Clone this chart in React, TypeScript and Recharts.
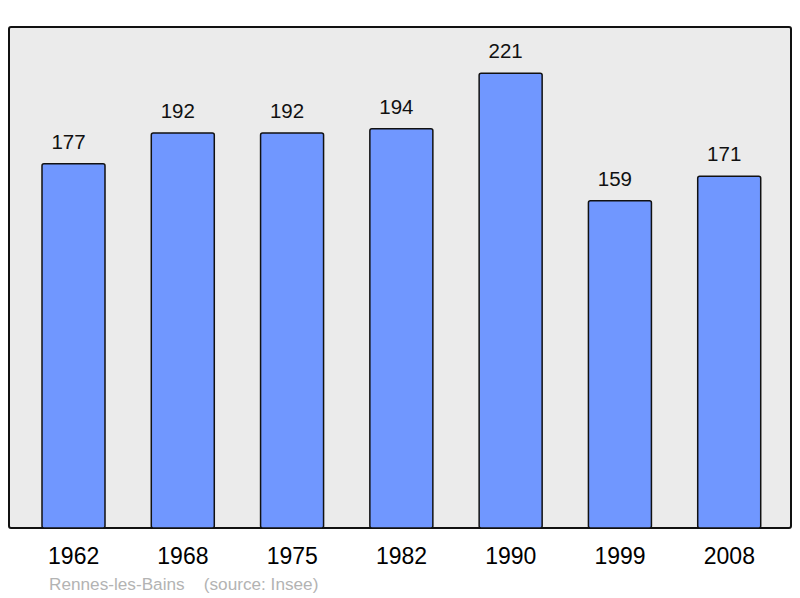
import React from "react"
import { BarChart, Bar, XAxis, YAxis, LabelList, usePlotArea } from "recharts"

const years = ["1962", "1968", "1975", "1982", "1990", "1999", "2008"]
const population = [177, 192, 192, 194, 221, 159, 171]
const caption = "Rennes-les-Bains    (source: Insee)"

const data = years.map((year, i) => ({ year, population: population[i] }))

const FONT = "'Liberation Sans', Arial, sans-serif"

// fond gris du cadre
function PlotBackground() {
  const area = usePlotArea()
  if (!area) return null
  return <rect x={area.x} y={area.y} width={area.width} height={area.height} rx={2} fill="#ebebeb" />
}

// bordure du cadre, dessinée par-dessus les barres
function PlotBorder() {
  const area = usePlotArea()
  if (!area) return null
  return (
    <rect x={area.x} y={area.y} width={area.width} height={area.height} rx={2} fill="none" stroke="#111" strokeWidth={2} />
  )
}

export default function App() {
  return (
    <div style={{ position: "absolute", left: 0, top: 0, width: 800, height: 598, background: "#fff" }}>
      <BarChart width={800} height={598} data={data} margin={{ top: 27, right: 9, bottom: 30, left: 9 }}>
        <PlotBackground />
        <XAxis
          dataKey="year"
          height={40}
          axisLine={false}
          tickLine={false}
          tickSize={0}
          tickMargin={20}
          padding={{ left: 10, right: 7 }}
          tick={{ fontSize: 23, fill: "#000", fontFamily: FONT }}
        />
        <YAxis hide domain={[0, 243.5]} />
        <Bar dataKey="population" fill="#7097ff" stroke="#111" strokeWidth={1.5} barSize={63} radius={2} isAnimationActive={false}>
          <LabelList
            dataKey="population"
            position="top"
            offset={15}
            dx={-5}
            style={{ fontSize: 20.5, fill: "#111", fontFamily: FONT }}
          />
        </Bar>
        <PlotBorder />
        <text x={49} y={590} fontSize={17.2} fill="#b3b3b3" fontFamily={FONT} style={{ whiteSpace: "pre" }}>
          {caption}
        </text>
      </BarChart>
    </div>
  )
}
